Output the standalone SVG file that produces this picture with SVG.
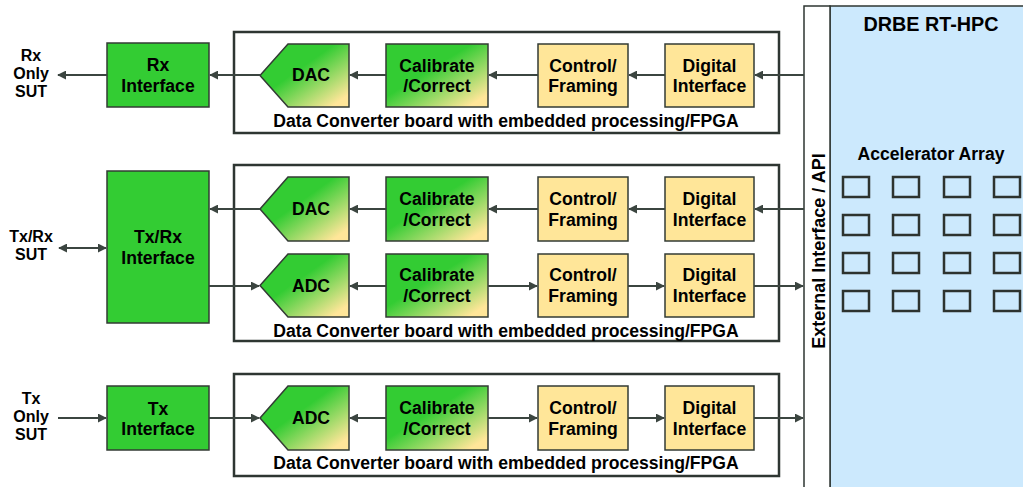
<svg xmlns="http://www.w3.org/2000/svg" width="1023" height="487" viewBox="0 0 1023 487">
  <defs>
    <linearGradient id="gradGY" x1="0" y1="0" x2="1" y2="1">
      <stop offset="0.42" stop-color="#33cc33"/>
      <stop offset="0.9" stop-color="#ffe699"/>
    </linearGradient>
    <marker id="arrow" viewBox="0 0 10 10" refX="9" refY="5" markerWidth="9" markerHeight="9" markerUnits="userSpaceOnUse" orient="auto-start-reverse">
      <path d="M0,0 L10,5 L0,10 z" fill="#3b4540"/>
    </marker>
    <style>
      text { font-family: "Liberation Sans", Arial, sans-serif; font-weight: bold; fill: #000; }
      .lbl { font-size: 17.6px; text-anchor: middle; }
      .sut { font-size: 16px; text-anchor: middle; }
      .green { fill: #33cc33; stroke: #333b35; stroke-width: 1.5; }
      .yellow { fill: #ffe699; stroke: #333b35; stroke-width: 1.5; }
      .grad { fill: url(#gradGY); stroke: #333b35; stroke-width: 1.5; }
      .board { fill: #fff; stroke: #2e3632; stroke-width: 2.5; }
      .cell { fill: none; stroke: #2d332f; stroke-width: 2.5; }
      .wire { fill: none; stroke: #3b4540; stroke-width: 2; }
      .fwd { marker-end: url(#arrow); }
      .both { marker-start: url(#arrow); marker-end: url(#arrow); }
    </style>
  </defs>

  <!-- DRBE RT-HPC panel -->
  <g id="rt-hpc">
    <rect x="830" y="6" width="200" height="490" fill="#cce9fd" stroke="#2e3632" stroke-width="1.5"/>
    <text x="931" y="31" font-size="19.8px" text-anchor="middle">DRBE RT-HPC</text>
    <text x="931" y="160" class="lbl">Accelerator Array</text>
    <g id="accelerators">
      <rect class="cell" x="843" y="177" width="26" height="20"/>
      <rect class="cell" x="893" y="177" width="26" height="20"/>
      <rect class="cell" x="944" y="177" width="26" height="20"/>
      <rect class="cell" x="994" y="177" width="26" height="20"/>
      <rect class="cell" x="843" y="215" width="26" height="20"/>
      <rect class="cell" x="893" y="215" width="26" height="20"/>
      <rect class="cell" x="944" y="215" width="26" height="20"/>
      <rect class="cell" x="994" y="215" width="26" height="20"/>
      <rect class="cell" x="843" y="253" width="26" height="20"/>
      <rect class="cell" x="893" y="253" width="26" height="20"/>
      <rect class="cell" x="944" y="253" width="26" height="20"/>
      <rect class="cell" x="994" y="253" width="26" height="20"/>
      <rect class="cell" x="843" y="291" width="26" height="20"/>
      <rect class="cell" x="893" y="291" width="26" height="20"/>
      <rect class="cell" x="944" y="291" width="26" height="20"/>
      <rect class="cell" x="994" y="291" width="26" height="20"/>
    </g>
  </g>

  <!-- External interface bar -->
  <g id="ext-interface">
    <rect x="804" y="6" width="26" height="490" fill="#fff" stroke="#2e3632" stroke-width="1.5"/>
    <text transform="translate(825,251) rotate(-90)" font-size="18px" text-anchor="middle">External Interface / API</text>
  </g>

  <!-- Data converter boards -->
  <g id="board-1">
    <rect class="board" x="234" y="32" width="545" height="101"/>
    <text x="506" y="127" class="lbl">Data Converter board with  embedded processing/FPGA</text>
  </g>
  <g id="board-2">
    <rect class="board" x="234" y="165" width="545" height="176"/>
    <text x="506" y="337" class="lbl">Data Converter board with  embedded processing/FPGA</text>
  </g>
  <g id="board-3">
    <rect class="board" x="234" y="374" width="545" height="102"/>
    <text x="506" y="469" class="lbl">Data Converter board with  embedded processing/FPGA</text>
  </g>

  <!-- SUT labels -->
  <g id="sut-rx">
    <text class="sut" x="31" y="61">Rx</text>
    <text class="sut" x="31" y="79">Only</text>
    <text class="sut" x="31" y="97">SUT</text>
  </g>
  <g id="sut-txrx">
    <text class="sut" x="31" y="242">Tx/Rx</text>
    <text class="sut" x="31" y="260">SUT</text>
  </g>
  <g id="sut-tx">
    <text class="sut" x="31" y="404">Tx</text>
    <text class="sut" x="31" y="422">Only</text>
    <text class="sut" x="31" y="440">SUT</text>
  </g>

  <!-- Interface blocks -->
  <g id="rx-interface">
    <rect class="green" x="107" y="43" width="102" height="64"/>
    <text class="lbl" x="158" y="71">Rx</text>
    <text class="lbl" x="158" y="92">Interface</text>
  </g>
  <g id="txrx-interface">
    <rect class="green" x="107" y="171" width="102" height="152"/>
    <text class="lbl" x="158" y="243">Tx/Rx</text>
    <text class="lbl" x="158" y="264">Interface</text>
  </g>
  <g id="tx-interface">
    <rect class="green" x="107" y="386" width="102" height="64"/>
    <text class="lbl" x="158" y="415">Tx</text>
    <text class="lbl" x="158" y="435">Interface</text>
  </g>

  <!-- Row 1 chain -->
  <g id="dac-1">
    <path class="grad" d="M260,75.5 L288,44 L349,44 L349,107 L288,107 Z"/>
    <text class="lbl" x="311" y="81">DAC</text>
  </g>
  <g id="cal-1">
    <rect class="grad" x="386" y="44" width="102" height="63"/>
    <text class="lbl" x="437" y="72">Calibrate</text>
    <text class="lbl" x="437" y="92">/Correct</text>
  </g>
  <g id="ctl-1">
    <rect class="yellow" x="538" y="44" width="90" height="63"/>
    <text class="lbl" x="583" y="72">Control/</text>
    <text class="lbl" x="583" y="92">Framing</text>
  </g>
  <g id="dig-1">
    <rect class="yellow" x="665" y="44" width="89" height="63"/>
    <text class="lbl" x="709.5" y="72">Digital</text>
    <text class="lbl" x="709.5" y="92">Interface</text>
  </g>

  <!-- Row 2 DAC chain -->
  <g id="dac-2">
    <path class="grad" d="M260,209 L288,177 L349,177 L349,241 L288,241 Z"/>
    <text class="lbl" x="311" y="215">DAC</text>
  </g>
  <g id="cal-2">
    <rect class="grad" x="386" y="177" width="102" height="64"/>
    <text class="lbl" x="437" y="205">Calibrate</text>
    <text class="lbl" x="437" y="226">/Correct</text>
  </g>
  <g id="ctl-2">
    <rect class="yellow" x="538" y="177" width="90" height="64"/>
    <text class="lbl" x="583" y="205">Control/</text>
    <text class="lbl" x="583" y="226">Framing</text>
  </g>
  <g id="dig-2">
    <rect class="yellow" x="665" y="177" width="89" height="64"/>
    <text class="lbl" x="709.5" y="205">Digital</text>
    <text class="lbl" x="709.5" y="226">Interface</text>
  </g>

  <!-- Row 2 ADC chain -->
  <g id="adc-2">
    <path class="grad" d="M260,285.5 L288,254 L349,254 L349,317 L288,317 Z"/>
    <text class="lbl" x="311" y="292">ADC</text>
  </g>
  <g id="cal-3">
    <rect class="grad" x="386" y="254" width="102" height="63"/>
    <text class="lbl" x="437" y="281">Calibrate</text>
    <text class="lbl" x="437" y="302">/Correct</text>
  </g>
  <g id="ctl-3">
    <rect class="yellow" x="538" y="254" width="90" height="63"/>
    <text class="lbl" x="583" y="281">Control/</text>
    <text class="lbl" x="583" y="302">Framing</text>
  </g>
  <g id="dig-3">
    <rect class="yellow" x="665" y="254" width="89" height="63"/>
    <text class="lbl" x="709.5" y="281">Digital</text>
    <text class="lbl" x="709.5" y="302">Interface</text>
  </g>

  <!-- Row 3 ADC chain -->
  <g id="adc-3">
    <path class="grad" d="M260,418 L288,386 L349,386 L349,450 L288,450 Z"/>
    <text class="lbl" x="311" y="424">ADC</text>
  </g>
  <g id="cal-4">
    <rect class="grad" x="386" y="386" width="102" height="64"/>
    <text class="lbl" x="437" y="414">Calibrate</text>
    <text class="lbl" x="437" y="435">/Correct</text>
  </g>
  <g id="ctl-4">
    <rect class="yellow" x="538" y="386" width="90" height="64"/>
    <text class="lbl" x="583" y="414">Control/</text>
    <text class="lbl" x="583" y="435">Framing</text>
  </g>
  <g id="dig-4">
    <rect class="yellow" x="665" y="386" width="89" height="64"/>
    <text class="lbl" x="709.5" y="414">Digital</text>
    <text class="lbl" x="709.5" y="435">Interface</text>
  </g>

  <!-- Connectors -->
  <g id="connectors">
    <!-- row 1: receive path, right to left -->
    <line class="wire fwd" x1="804" y1="75" x2="755" y2="75"/>
    <line class="wire fwd" x1="665" y1="75" x2="629" y2="75"/>
    <line class="wire fwd" x1="538" y1="75" x2="489" y2="75"/>
    <line class="wire fwd" x1="386" y1="75" x2="350" y2="75"/>
    <line class="wire fwd" x1="260" y1="75" x2="210" y2="75"/>
    <line class="wire fwd" x1="107" y1="75" x2="58" y2="75"/>

    <!-- row 2: DAC path -->
    <line class="wire fwd" x1="804" y1="209" x2="755" y2="209"/>
    <line class="wire fwd" x1="665" y1="209" x2="629" y2="209"/>
    <line class="wire fwd" x1="538" y1="209" x2="489" y2="209"/>
    <line class="wire fwd" x1="386" y1="209" x2="350" y2="209"/>
    <line class="wire fwd" x1="260" y1="209" x2="210" y2="209"/>

    <!-- row 2: SUT link -->
    <line class="wire both" x1="59" y1="248" x2="106" y2="248"/>

    <!-- row 2: ADC path -->
    <line class="wire fwd" x1="209" y1="286" x2="259" y2="286"/>
    <line class="wire fwd" x1="386" y1="286" x2="350" y2="286"/>
    <line class="wire fwd" x1="488" y1="286" x2="537" y2="286"/>
    <line class="wire fwd" x1="628" y1="286" x2="664" y2="286"/>
    <line class="wire fwd" x1="754" y1="286" x2="803" y2="286"/>

    <!-- row 3: transmit path -->
    <line class="wire fwd" x1="58" y1="418" x2="106" y2="418"/>
    <line class="wire fwd" x1="209" y1="418" x2="259" y2="418"/>
    <line class="wire fwd" x1="386" y1="418" x2="350" y2="418"/>
    <line class="wire fwd" x1="488" y1="418" x2="537" y2="418"/>
    <line class="wire fwd" x1="628" y1="418" x2="664" y2="418"/>
    <line class="wire fwd" x1="754" y1="418" x2="803" y2="418"/>
  </g>
</svg>
